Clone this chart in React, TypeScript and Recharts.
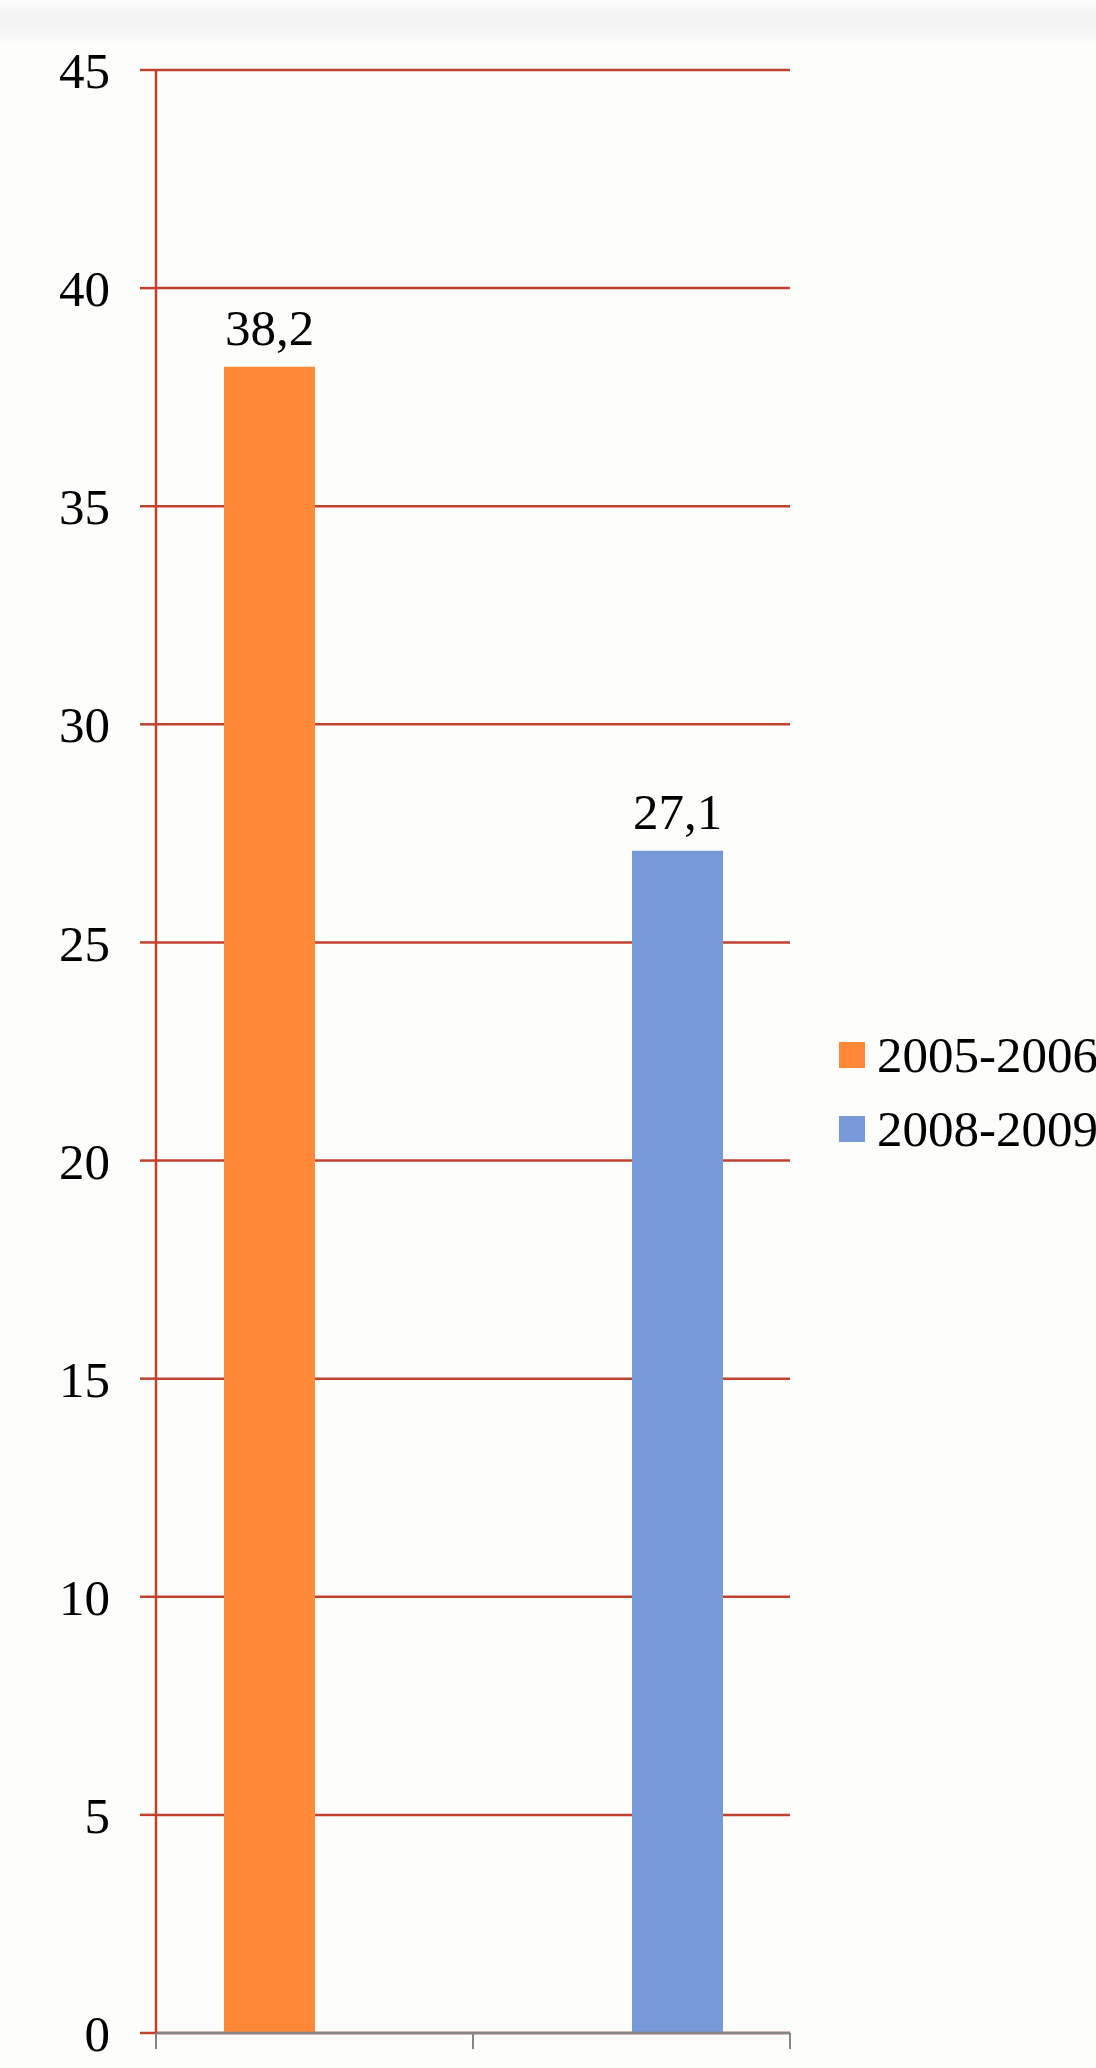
import React from 'react';
import { BarChart, Bar, XAxis, YAxis, CartesianGrid, Legend, LabelList } from 'recharts';

const periods = ['2005-2006', '2008-2009'];
const seriesColors = ['#fe8838', '#7799d9'];
const shares = [38.2, 27.1];
const yTicks = [0, 5, 10, 15, 20, 25, 30, 35, 40, 45];

// one row per period; each period only fills its own series slot
const data = periods.map((p, i) => {
  const row: Record<string, any> = { period: p };
  periods.forEach((q, j) => {
    row[q] = i === j ? shares[j] : null;
  });
  return row;
});

const FONT = '"Liberation Serif", "DejaVu Serif", serif';
const GRID = '#c1412f';
const AXIS_GRAY = '#858585';
const TICK_LEN = 16;

const commaNum = (v: any) => (v == null ? '' : String(v).replace('.', ','));

// no category text, just tick marks on the band edges
function EdgeTick({ x, y, payload, index, visibleTicksCount }: any) {
  const half = payload?.offset ?? 0;
  const isLast = index === visibleTicksCount - 1;
  return (
    <g>
      <line x1={x - half} x2={x - half} y1={y} y2={y + TICK_LEN} stroke={AXIS_GRAY} strokeWidth={2} />
      {isLast && (
        <line x1={x + half} x2={x + half} y1={y} y2={y + TICK_LEN} stroke={AXIS_GRAY} strokeWidth={2} />
      )}
    </g>
  );
}

function LegendBox({ payload }: any) {
  return (
    <div style={{ fontFamily: FONT, fontSize: 51, color: '#000', whiteSpace: 'nowrap' }}>
      {(payload || []).map((item: any) => (
        <div key={item.value} style={{ height: 74, display: 'flex', alignItems: 'center' }}>
          <span style={{ width: 26, height: 26, background: item.color, marginRight: 12, display: 'inline-block' }} />
          <span style={{ lineHeight: '51px' }}>{item.value}</span>
        </div>
      ))}
    </div>
  );
}

export default function App() {
  return (
    <div style={{ position: 'absolute', left: 0, top: 0, width: 1096, height: 2068, background: '#fdfdfc', overflow: 'hidden' }}>
      <div
        style={{
          position: 'absolute', left: 0, top: 0, width: 1096, height: 46,
          background: 'linear-gradient(to bottom, #fdfdfd 0%, #f2f2f2 40%, #f6f6f6 65%, #fdfdfc 100%)',
        }}
      />
      <BarChart
        width={1096}
        height={2068}
        data={data}
        margin={{ top: 70, right: 306, bottom: 0, left: 0 }}
        barSize={91}
        barGap={0}
      >
        <CartesianGrid horizontal vertical={false} stroke={GRID} strokeWidth={2.5} />
        <XAxis
          dataKey="period"
          height={35}
          interval={0}
          tickSize={0}
          tickMargin={0}
          tickLine={false}
          tick={<EdgeTick />}
          axisLine={{ stroke: AXIS_GRAY, strokeWidth: 2.5 }}
        />
        <YAxis
          domain={[0, 45]}
          ticks={yTicks}
          width={156}
          tickSize={16}
          tickMargin={30}
          axisLine={{ stroke: GRID, strokeWidth: 2.5 }}
          tickLine={{ stroke: GRID, strokeWidth: 2.5 }}
          tick={{ fontFamily: FONT, fontSize: 51, fill: '#000' }}
        />
        <Legend
          layout="vertical"
          align="center"
          verticalAlign="middle"
          content={<LegendBox />}
          wrapperStyle={{ left: 839, top: 1018, width: 'auto', height: 'auto' }}
        />
        {periods.map((p, i) => (
          <Bar key={p} dataKey={p} name={p} fill={seriesColors[i]} isAnimationActive={false}>
            <LabelList
              dataKey={p}
              position="top"
              offset={22}
              formatter={commaNum}
              style={{ fontFamily: FONT, fontSize: 51, fill: '#000' }}
            />
          </Bar>
        ))}
      </BarChart>
    </div>
  );
}
